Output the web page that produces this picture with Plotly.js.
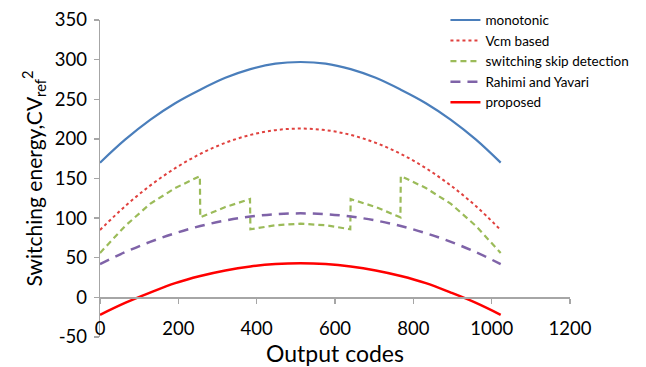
<!DOCTYPE html>
<html>
<head>
<meta charset="utf-8">
<script src="https://cdn.plot.ly/plotly-3.0.1.min.js"></script>
<style>html,body{margin:0;padding:0;background:#fff;}#chart{width:646px;height:367px;}</style>
</head>
<body>
<div id="chart"></div>
<script>
// Output codes for the smooth curves
const codes = [0, 64, 128, 192, 256, 320, 384, 448, 512, 576, 640, 704, 768, 832, 896, 960, 1023];
const monotonic = [170, 199, 224, 245, 262, 277, 288, 295, 297, 295, 288, 277, 262, 245, 224, 199, 170];
const vcmBased = [85, 115, 141, 163, 181, 195, 205, 211, 213, 211, 205, 195, 181, 163, 141, 115, 85];
const rahimiYavari = [42, 57, 70, 81, 90, 97, 102, 105, 106, 105, 102, 97, 90, 81, 70, 57, 42];
const proposed = [-22, -7, 6, 18, 27, 34, 39, 42, 43, 42, 39, 34, 27, 18, 6, -7, -22];
// Switching skip detection has jumps
const skipCodes = [0, 64, 128, 192, 255, 256, 320, 383, 384, 448, 512, 576, 639, 640, 704, 767, 768, 832, 896, 960, 1023];
const skipDetect = [56, 90, 118, 138, 153, 101, 114, 124, 86, 91, 93, 91, 86, 124, 114, 101, 153, 138, 118, 90, 56];

const names = ['monotonic', 'Vcm based', 'switching skip detection', 'Rahimi and Yavari', 'proposed'];
const xTicks = [0, 200, 400, 600, 800, 1000, 1200];
const yTicks = [-50, 0, 50, 100, 150, 200, 250, 300, 350];

const traces = [
  {x: codes, y: monotonic, name: names[0], mode: 'lines', line: {color: '#4A7EBB', width: 2.2, shape: 'spline'}},
  {x: codes, y: vcmBased, name: names[1], mode: 'lines', line: {color: '#E0413E', width: 2, dash: 'dot', shape: 'spline'}},
  {x: skipCodes, y: skipDetect, name: names[2], mode: 'lines', line: {color: '#9BBB59', width: 2.2, dash: '6px,4px', shape: 'linear'}},
  {x: codes, y: rahimiYavari, name: names[3], mode: 'lines', line: {color: '#7F63A8', width: 2.5, dash: '10px,7px', shape: 'spline'}},
  {x: codes, y: proposed, name: names[4], mode: 'lines', line: {color: '#FF0000', width: 2.5, shape: 'spline'}}
];

const font = 'Lato, "Open Sans", sans-serif';
const layout = {
  width: 646, height: 367,
  margin: {l: 100, r: 76, t: 0, b: 30},
  paper_bgcolor: '#fff', plot_bgcolor: '#fff',
  font: {family: font, color: '#000'},
  showlegend: true,
  legend: {x: 0.735, y: 0.986, xanchor: 'left', yanchor: 'top', font: {size: 13.5, family: font}, bgcolor: 'rgba(0,0,0,0)', tracegroupgap: 0},
  xaxis: {
    range: [0, 1200], tickvals: xTicks, ticktext: xTicks.map(String),
    anchor: 'free', position: 0.1176,
    showline: true, linecolor: '#A6A6A6', linewidth: 1.3,
    ticks: 'outside', ticklen: 5, tickcolor: '#A6A6A6', tickwidth: 1.3,
    ticklabelstandoff: 9,
    showgrid: false, zeroline: false,
    tickfont: {size: 18.5, family: font},
    title: {text: 'Output codes', font: {size: 23, family: font}, standoff: 0}
  },
  yaxis: {
    domain: [0, 0.9407],
    range: [-50, 350], tickvals: yTicks, ticktext: yTicks.map(String),
    showline: true, linecolor: '#A6A6A6', linewidth: 1.3,
    ticks: 'outside', ticklen: 5, tickcolor: '#A6A6A6', tickwidth: 1.3,
    ticklabelstandoff: 3,
    showgrid: false, zeroline: false,
    tickfont: {size: 18.5, family: font},
    title: {text: 'Switching energy,CV<sub>ref</sub><sup>2</sup>', font: {size: 21, family: font}, standoff: 6}
  }
};

Plotly.newPlot('chart', traces, layout, {displayModeBar: false, staticPlot: true});
</script>
</body>
</html>
